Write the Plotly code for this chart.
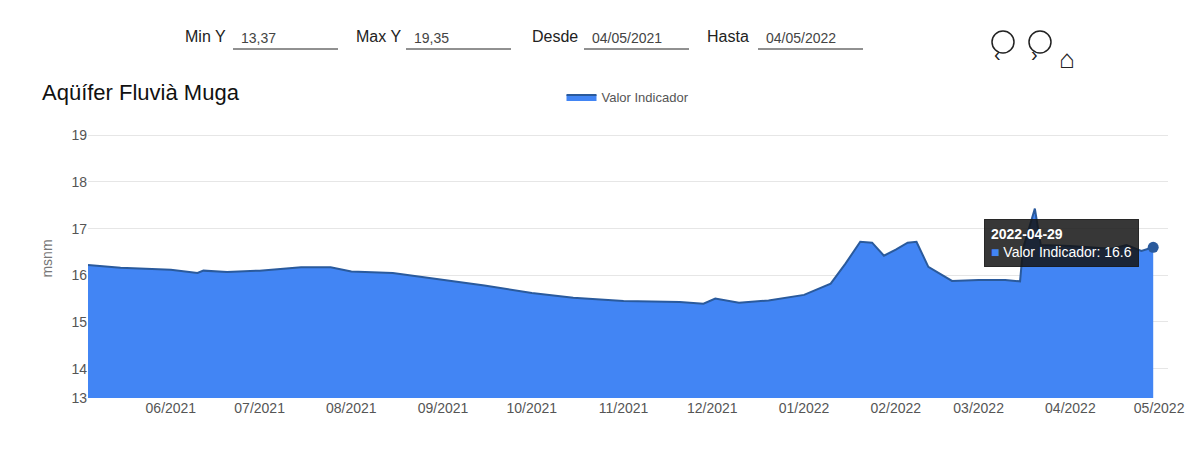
import plotly.graph_objects as go

dates = ["2021-05-04", "2021-05-15", "2021-06-01", "2021-06-10", "2021-06-12", "2021-06-20",
         "2021-07-01", "2021-07-15", "2021-07-25", "2021-08-01", "2021-08-15", "2021-09-01",
         "2021-09-15", "2021-10-01", "2021-10-15", "2021-11-01", "2021-11-20", "2021-11-28",
         "2021-12-02", "2021-12-10", "2021-12-20", "2022-01-01", "2022-01-10", "2022-01-15",
         "2022-01-20", "2022-01-24", "2022-01-28", "2022-02-01", "2022-02-05", "2022-02-08",
         "2022-02-12", "2022-02-20", "2022-03-01", "2022-03-10", "2022-03-15", "2022-03-16",
         "2022-03-20", "2022-03-22", "2022-04-01", "2022-04-15", "2022-04-20", "2022-04-25",
         "2022-04-29"]
values = [16.22, 16.16, 16.12, 16.05, 16.1, 16.07,
          16.1, 16.17, 16.17, 16.08, 16.05, 15.9,
          15.78, 15.62, 15.52, 15.45, 15.43, 15.39,
          15.5, 15.41, 15.46, 15.58, 15.82, 16.25,
          16.72, 16.7, 16.42, 16.55, 16.7, 16.72,
          16.18, 15.88, 15.9, 15.9, 15.87, 16.57,
          17.43, 16.65, 16.63, 16.57, 16.65, 16.52,
          16.6]
y_ticks = [13.37, 14, 15, 16, 17, 18, 19]
y_labels = ["13", "14", "15", "16", "17", "18", "19"]
month_ticks = ["2021-06-01", "2021-07-01", "2021-08-01", "2021-09-01", "2021-10-01", "2021-11-01",
               "2021-12-01", "2022-01-01", "2022-02-01", "2022-03-01", "2022-04-01", "2022-05-01"]
month_labels = ["06/2021", "07/2021", "08/2021", "09/2021", "10/2021", "11/2021",
                "12/2021", "01/2022", "02/2022", "03/2022", "04/2022", "05/2022"]

PH = 279  # plot height in px


def py(p):
    return (390 - p) / PH


def px(p):
    return (p - 80) / 1080


fig = go.Figure()
fig.add_trace(go.Scatter(
    x=dates, y=values, mode="lines", fill="tozeroy", name="Valor Indicador",
    line=dict(color="#2a5a9c", width=2), fillcolor="#4285f4",
))
fig.add_trace(go.Scatter(
    x=[dates[-1]], y=[values[-1]], mode="markers", showlegend=False,
    marker=dict(color="#2a5a9c", size=11),
))

fig.update_layout(
    width=1200, height=474, plot_bgcolor="white", paper_bgcolor="white",
    margin=dict(l=80, r=40, t=111, b=84, autoexpand=False),
    font=dict(family="Liberation Sans, Arial", color="#555"),
    legend=dict(orientation="h", x=0.5, xanchor="center", y=py(89), yanchor="middle",
                font=dict(size=13, color="#555")),
    xaxis=dict(range=["2021-05-04", "2022-05-04"], tickvals=month_ticks, ticktext=month_labels,
               showgrid=False, tickfont=dict(size=14, color="#555"), ticks=""),
    yaxis=dict(range=[13.37, 19.35], tickvals=y_ticks, ticktext=y_labels, showgrid=True,
               gridcolor="#e6e6e6", tickfont=dict(size=14, color="#555"),
               title=dict(text="msnm", font=dict(size=14, color="#777")), zeroline=False),
)

fig.add_annotation(xref="paper", yref="paper", x=px(32), y=py(84), xanchor="left", yanchor="middle",
                   text="Aqüífer Fluvià Muga", showarrow=False, font=dict(size=22, color="#111"))

# top controls
controls = [("Min Y", "13,37", 175, 225), ("Max Y", "19,35", 346, 398),
            ("Desde", "04/05/2021", 522, 576), ("Hasta", "04/05/2022", 697, 750)]
for label, val, lx, vx in controls:
    fig.add_annotation(xref="paper", yref="paper", x=px(lx), y=py(29),
                       xanchor="left", yanchor="middle", text=label, showarrow=False,
                       font=dict(size=16, color="#222"))
    fig.add_annotation(xref="paper", yref="paper", x=px(vx + 6), y=py(30),
                       xanchor="left", yanchor="middle", text=val, showarrow=False,
                       font=dict(size=14, color="#444"))
    fig.add_shape(type="line", xref="paper", yref="paper", x0=px(vx), x1=px(vx + 105),
                  y0=py(41), y1=py(41), line=dict(color="#222", width=1))

for cx, sym in [(995, "‹"), (1032, "›")]:
    fig.add_shape(type="circle", xref="paper", yref="paper", x0=px(cx - 11), x1=px(cx + 11),
                  y0=py(45), y1=py(23), line=dict(color="#222", width=1.5))
    fig.add_annotation(xref="paper", yref="paper", x=px(cx), y=py(33), text=sym,
                       showarrow=False, font=dict(size=20, color="#222"))
fig.add_annotation(xref="paper", yref="paper", x=px(1069), y=py(34), text="⌂",
                   showarrow=False, font=dict(size=26, color="#222"))

# tooltip
fig.add_annotation(x="2022-04-29", y=16.6, xref="x", yref="y", xanchor="right", yanchor="middle",
                   showarrow=False, xshift=-14, yshift=4,
                   text="<b>2022-04-29</b><br><span style='color:#4285f4'>■</span> Valor Indicador: 16.6",
                   align="left",
                   bgcolor="rgba(20,20,20,0.85)", bordercolor="rgba(20,20,20,0.85)", borderpad=6,
                   font=dict(size=14, color="white"))

fig.write_html("out.html")
